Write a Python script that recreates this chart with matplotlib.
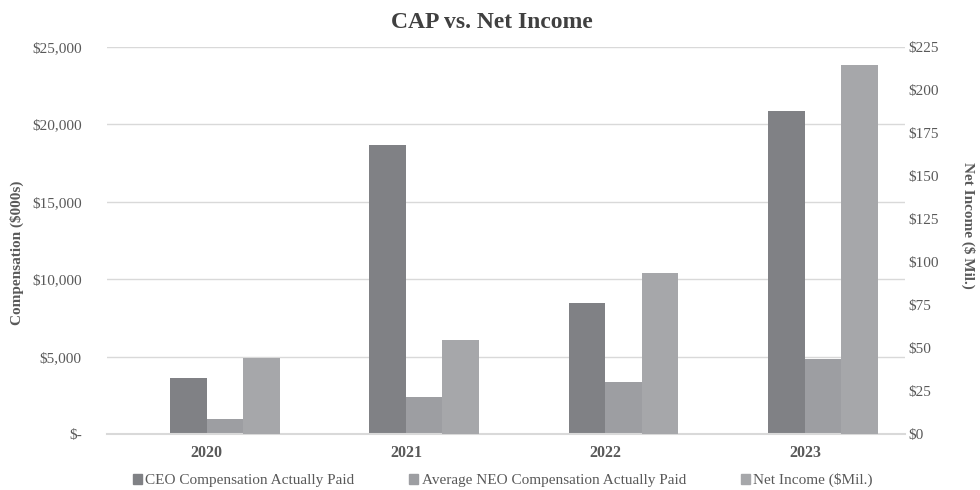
import numpy as np
import matplotlib.pyplot as plt
from matplotlib.patches import Patch
from matplotlib.ticker import FuncFormatter

years = ["2020", "2021", "2022", "2023"]
ceo_cap = [3650, 18650, 8500, 20850]
neo_cap = [970, 2370, 3380, 4850]
net_income = [44.2, 54.7, 93.9, 214.4]

c_ceo = "#808185"
c_neo = "#9d9ea2"
c_ni = "#a6a7aa"
txt = "#595959"

plt.rcParams["font.family"] = ["Liberation Serif", "DejaVu Serif"]

fig = plt.figure(figsize=(9.8, 4.9), dpi=100)
ax = fig.add_axes([0.109, 0.114, 0.814, 0.790])
ax2 = ax.twinx()

x = np.arange(len(years))
w = 0.183
ax.bar(x - 0.5 * w, ceo_cap, w, color=c_ceo, zorder=3)
ax.bar(x + 0.5 * w, neo_cap, w, color=c_neo, zorder=3)
ax2.bar(x + 1.5 * w, net_income, w, color=c_ni, zorder=3)

ax.set_xlim(-0.5, 3.5)
ax.set_ylim(0, 25000)
ax2.set_ylim(0, 225)
ax.set_yticks(np.arange(0, 25001, 5000))
ax2.set_yticks(np.arange(0, 226, 25))

ax.yaxis.set_major_formatter(FuncFormatter(lambda v, p: "$-" if v == 0 else "${:,.0f}".format(v)))
ax2.yaxis.set_major_formatter(FuncFormatter(lambda v, p: "${:.0f}".format(v)))

ax.grid(axis="y", color="#d9d9d9", lw=1, zorder=0)
ax.set_axisbelow(True)
for a in (ax, ax2):
    for s in a.spines.values():
        s.set_visible(False)
    a.tick_params(length=0, labelsize=11, colors=txt)
ax.spines["bottom"].set_visible(True)
ax.spines["bottom"].set_color("#d9d9d9")
ax.spines["bottom"].set_linewidth(1.5)
ax.spines["bottom"].set_zorder(4)

ax.set_xticks(x)
ax.set_xticklabels(years, fontweight="bold", fontsize=11.5, color=txt)
ax.tick_params(axis="y", pad=18)
ax2.tick_params(axis="y", pad=2.5)
ax.tick_params(axis="x", pad=8)

ax.set_ylabel("Compensation ($000s)", fontsize=11, fontweight="bold", color=txt)
ax.yaxis.set_label_coords(-0.104, 0.468)
ax2.set_ylabel("Net Income ($ Mil.)", fontsize=11, fontweight="bold", color=txt, rotation=-90)
ax2.yaxis.set_label_coords(1.088, 0.54)
fig.text(0.502, 0.955, "CAP vs. Net Income", fontsize=17, fontweight="bold", color="#404040",
         ha="center", va="center")

handles = [Patch(color=c_ceo), Patch(color=c_neo), Patch(color=c_ni)]
labels = ["CEO Compensation Actually Paid", "Average NEO Compensation Actually Paid", "Net Income ($Mil.)"]
fig.legend(handles, labels, loc="center", bbox_to_anchor=(0.513, 0.02), ncol=3, frameon=False,
           fontsize=11, labelcolor=txt, handlelength=0.6, handleheight=0.6,
           handletextpad=0.2, columnspacing=3.6, borderpad=0)

fig.savefig("out.png", dpi=100)
